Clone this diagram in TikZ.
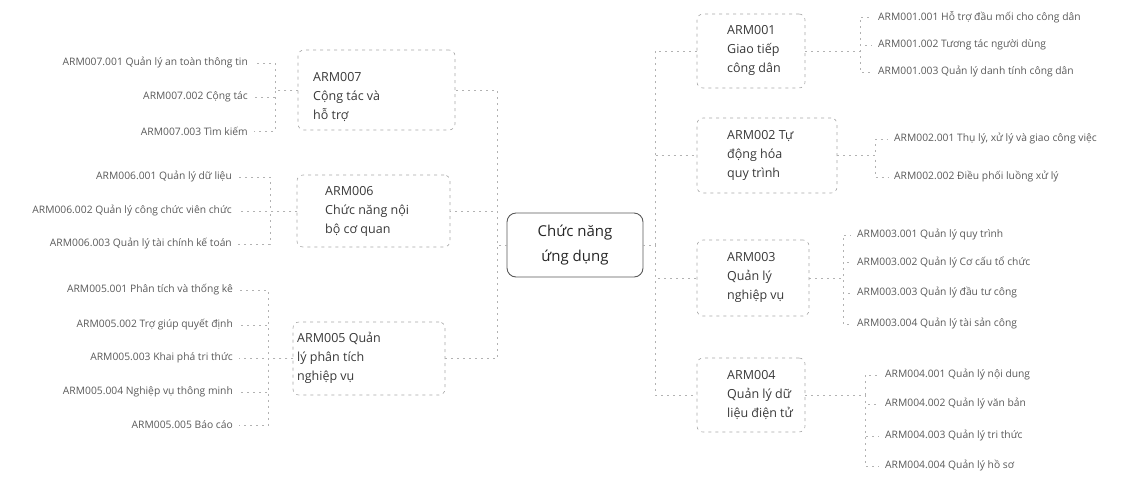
\documentclass[tikz,border=0pt]{standalone}
\usepackage{fontspec}
\setmainfont{Open Sans}
\tikzset{
  leaf/.style={font=\fontsize{10.3}{12}\selectfont, text=black!65, inner sep=0pt},
  mtext/.style={font=\fontsize{12.5}{19}\selectfont, text=black!78, align=left, inner sep=0pt},
  mbox/.style={draw=black!35, dash pattern=on 3pt off 4pt, rounded corners=6pt, line width=0.6pt, inner sep=0pt, outer sep=0pt},
  conn/.style={draw=black!30, dash pattern=on 2pt off 4pt, line width=0.6pt},
  cbox/.style={draw=black!65, line width=0.9pt, rounded corners=9pt, align=center,
    font=\fontsize{15}{25}\selectfont, text=black!85, minimum width=136pt, minimum height=64pt, outer sep=0pt}
}
\begin{document}
\begin{tikzpicture}[x=1pt,y=-1pt]
\useasboundingbox (0,0) rectangle (1121,483);
% centre
\node[cbox] (c) at (575,245) {Chức năng\\ứng dụng};
\coordinate (rt) at (655,0);
\coordinate (lt) at (497,0);
% right main boxes
\node[mbox, minimum width=108pt, minimum height=74pt, anchor=north west] (m1) at (697,14) {};
\node[mbox, minimum width=140pt, minimum height=75pt, anchor=north west] (m2) at (697,118) {};
\node[mbox, minimum width=112pt, minimum height=76pt, anchor=north west] (m3) at (697,240) {};
\node[mbox, minimum width=108pt, minimum height=74pt, anchor=north west] (m4) at (697,358) {};
\node[mtext, anchor=west] (t1) at (727,50) {ARM001\\Giao tiếp\\công dân};
\node[mtext, anchor=west] (t2) at (727,155) {ARM002 Tự\\động hóa\\quy trình};
\node[mtext, anchor=west] (t3) at (727,277) {ARM003\\Quản lý\\nghiệp vụ};
\node[mtext, anchor=west] (t4) at (727,395) {ARM004\\Quản lý dữ\\liệu điện tử};
% left main boxes
\node[mbox, minimum width=157pt, minimum height=80pt, anchor=north west] (m7) at (298,50) {};
\node[mbox, minimum width=153pt, minimum height=72pt, anchor=north west] (m6) at (297,175) {};
\node[mbox, minimum width=152pt, minimum height=73pt, anchor=north west] (m5) at (293,322) {};
\node[mtext, anchor=west] (t7) at (313,97) {ARM007\\Cộng tác và\\hỗ trợ};
\node[mtext, anchor=west] (t6) at (325,211) {ARM006\\Chức năng nội\\bộ cơ quan};
\node[mtext, anchor=west] (t5) at (297,358) {ARM005 Quản\\lý phân tích\\nghiệp vụ};
% centre connectors
\foreach \m in {m1,m2,m3,m4}
  \draw[conn] (c.east) -- (c.east -| rt) |- (\m.west);
\foreach \m in {m5,m6,m7}
  \draw[conn] (c.west) -- (c.west -| lt) |- (\m.east);
% right leaves
\node[leaf, anchor=west] (l11) at (878,17) {ARM001.001 Hỗ trợ đầu mối cho công dân};
\node[leaf, anchor=west] (l12) at (878,45) {ARM001.002 Tương tác người dùng};
\node[leaf, anchor=west] (l13) at (878,72) {ARM001.003 Quản lý danh tính công dân};
\node[leaf, anchor=west] (l21) at (894,139) {ARM002.001 Thụ lý, xử lý và giao công việc};
\node[leaf, anchor=west] (l22) at (894,177) {ARM002.002 Điều phối luồng xử lý};
\node[leaf, anchor=west] (l31) at (857,235) {ARM003.001 Quản lý quy trình};
\node[leaf, anchor=west] (l32) at (857,262) {ARM003.002 Quản lý Cơ cấu tổ chức};
\node[leaf, anchor=west] (l33) at (857,293) {ARM003.003 Quản lý đầu tư công};
\node[leaf, anchor=west] (l34) at (857,324) {ARM003.004 Quản lý tài sản công};
\node[leaf, anchor=west] (l41) at (885,375) {ARM004.001 Quản lý nội dung};
\node[leaf, anchor=west] (l42) at (885,404) {ARM004.002 Quản lý văn bản};
\node[leaf, anchor=west] (l43) at (885,436) {ARM004.003 Quản lý tri thức};
\node[leaf, anchor=west] (l44) at (885,466) {ARM004.004 Quản lý hồ sơ};
% left leaves
\node[leaf, anchor=east] (l71) at (248,63) {ARM007.001 Quản lý an toàn thông tin};
\node[leaf, anchor=east] (l72) at (248,97) {ARM007.002 Cộng tác};
\node[leaf, anchor=east] (l73) at (248,131) {ARM007.003 Tìm kiếm};
\node[leaf, anchor=east] (l61) at (232,177) {ARM006.001 Quản lý dữ liệu};
\node[leaf, anchor=east] (l62) at (232,211) {ARM006.002 Quản lý công chức viên chức};
\node[leaf, anchor=east] (l63) at (232,244) {ARM006.003 Quản lý tài chính kế toán};
\node[leaf, anchor=east] (l51) at (233,290) {ARM005.001 Phân tích và thống kê};
\node[leaf, anchor=east] (l52) at (233,325) {ARM005.002 Trợ giúp quyết định};
\node[leaf, anchor=east] (l53) at (233,358) {ARM005.003 Khai phá tri thức};
\node[leaf, anchor=east] (l54) at (233,392) {ARM005.004 Nghiệp vụ thông minh};
\node[leaf, anchor=east] (l55) at (233,425) {ARM005.005 Báo cáo};
% leaf connectors
\coordinate (r1) at (860,0); \coordinate (r2) at (875,0);
\coordinate (r3) at (843,0); \coordinate (r4) at (865,0);
\coordinate (q7) at (275,0); \coordinate (q6) at (270,0); \coordinate (q5) at (268,0);
\foreach \l in {l11,l12,l13} \draw[conn, shorten >=6pt] (m1.east) -- (m1.east -| r1) |- (\l.west);
\foreach \l in {l21,l22} \draw[conn, shorten >=6pt] (m2.east) -- (m2.east -| r2) |- (\l.west);
\foreach \l in {l31,l32,l33,l34} \draw[conn, shorten >=6pt] (m3.east) -- (m3.east -| r3) |- (\l.west);
\foreach \l in {l41,l42,l43,l44} \draw[conn, shorten >=6pt] (m4.east) -- (m4.east -| r4) |- (\l.west);
\foreach \l in {l71,l72,l73} \draw[conn, shorten >=6pt] (m7.west) -- (m7.west -| q7) |- (\l.east);
\foreach \l in {l61,l62,l63} \draw[conn, shorten >=6pt] (m6.west) -- (m6.west -| q6) |- (\l.east);
\foreach \l in {l51,l52,l53,l54,l55} \draw[conn, shorten >=6pt] (m5.west) -- (m5.west -| q5) |- (\l.east);
\end{tikzpicture}
\end{document}
